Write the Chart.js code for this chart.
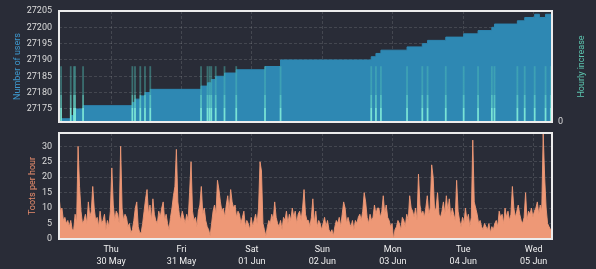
<!DOCTYPE html>
<html>
<head>
<meta charset="utf-8">
<script src="https://cdn.jsdelivr.net/npm/chart.js@4.4.1/dist/chart.umd.min.js"></script>
<style>
  html, body { margin: 0; padding: 0; background: #292c37; }
  body { width: 596px; height: 269px; position: relative; overflow: hidden; }
  .panel { position: absolute; left: 0; width: 596px; }
  #top { top: 0; height: 128px; }
  #bottom { top: 128px; height: 141px; }
</style>
</head>
<body>
<div class="panel" id="top"><canvas id="users"></canvas></div>
<div class="panel" id="bottom"><canvas id="toots"></canvas></div>
<script>
// hours counted from the left edge of the window (29 May, 06:15)
const dayTickHours = [17.75, 41.75, 65.75, 89.75, 113.75, 137.75, 161.75];
const dayNames = ["Thu", "Fri", "Sat", "Sun", "Mon", "Tue", "Wed"];
const dayDates = ["30 May", "31 May", "01 Jun", "02 Jun", "03 Jun", "04 Jun", "05 Jun"];

const userTicks = [27175, 27180, 27185, 27190, 27195, 27200, 27205];
const tootTicks = [0, 5, 10, 15, 20, 25, 30];

// number of users, as (hour of change, new count)
const userHours = [0, 0.7, 4.0, 5.1, 5.5, 8.2, 25.0, 25.9, 27.7, 29.3, 31.1,
  48.4, 50.6, 51.9, 53.4, 56.4, 60.4, 70.2, 75.5, 106.4, 108.0, 109.7,
  118.6, 123.8, 125.6, 131.8, 137.9, 142.8, 147.5, 148.4, 156.2, 158.7,
  162.1, 163.7, 165.8, 168];
const userCounts = [27171, 27172, 27173, 27174, 27175, 27176, 27177, 27178, 27179, 27180, 27181,
  27182, 27183, 27184, 27185, 27186, 27187, 27188, 27190, 27191, 27192, 27193,
  27194, 27195, 27196, 27197, 27198, 27199, 27200, 27201, 27202, 27203,
  27204, 27203, 27204, 27204];

// hourly increase
const increaseHours = [0.7, 4.0, 5.1, 5.5, 8.2, 25.0, 25.9, 27.7, 29.3, 31.1,
  48.4, 50.6, 51.3, 51.9, 53.4, 56.4, 60.4, 70.2, 75.5, 106.4, 108.0, 109.7,
  118.6, 123.8, 125.6, 131.8, 137.9, 142.8, 147.5, 148.4, 156.2, 158.7,
  162.1, 165.8, 167.6];
const increaseValues = [1, 1, 1, 1, 1, 1, 1, 1, 1, 1,
  1, 1, 1, 1, 1, 1, 1, 1, 1, 1, 1, 1,
  1, 1, 1, 1, 1, 1, 1, 1, 1, 1,
  1, 1, 1];

// toots per hour, one reading every half hour
const tootsPerHour = [
  14, 9, 10, 6, 7, 5, 6, 4, 6, 3, 3, 8, 5, 30, 17, 9, 5, 6, 8, 5, 12, 7, 9, 17,
  10, 6, 7, 4, 9, 5, 6, 8, 3, 6, 4, 9, 23, 11, 6, 9, 8, 5, 30, 10, 6, 8, 7, 4,
  5, 2, 3, 6, 10, 12, 4, 2, 2, 5, 9, 13, 16, 8, 11, 6, 13, 8, 6, 5, 9, 7, 10, 12,
  6, 8, 5, 3, 7, 10, 14, 17, 29, 12, 8, 6, 9, 7, 5, 8, 6, 15, 25, 9, 6, 7, 4, 9,
  11, 17, 8, 10, 6, 4, 3, 1, 5, 9, 11, 8, 19, 16, 12, 9, 10, 7, 11, 14, 9, 16, 12, 10,
  11, 7, 9, 8, 5, 7, 9, 4, 6, 5, 3, 7, 4, 6, 8, 5, 10, 25, 22, 5, 3, 1, 4, 6,
  5, 8, 6, 12, 7, 5, 4, 6, 3, 7, 6, 9, 5, 8, 6, 10, 7, 9, 5, 8, 9, 6, 10, 16,
  8, 6, 6, 4, 7, 13, 5, 9, 4, 6, 5, 3, 5, 7, 4, 6, 3, 2, 3, 1, 4, 6, 5, 7,
  4, 8, 12, 10, 5, 7, 5, 4, 6, 3, 6, 5, 7, 8, 6, 9, 15, 12, 7, 5, 8, 6, 7, 11,
  8, 10, 10, 7, 9, 14, 8, 11, 7, 6, 4, 5, 0, 3, 4, 6, 5, 3, 7, 6, 4, 8, 6, 14,
  10, 9, 7, 10, 6, 21, 11, 8, 9, 7, 10, 14, 8, 10, 24, 20, 9, 10, 15, 8, 7, 9, 12, 8,
  14, 9, 13, 7, 10, 8, 6, 19, 9, 6, 4, 7, 5, 10, 6, 8, 4, 7, 32, 12, 10, 8, 5, 6,
  4, 3, 5, 4, 3, 5, 2, 4, 3, 5, 6, 4, 9, 7, 8, 5, 10, 7, 9, 6, 8, 17, 10, 7,
  9, 11, 8, 6, 5, 7, 15, 6, 9, 8, 10, 7, 9, 10, 12, 8, 11, 9, 34, 20, 10, 5, 4, 3,
  3
];

Chart.defaults.font.family = "Roboto";
Chart.defaults.font.size = 9;
Chart.defaults.color = "#dcdcdc";
Chart.defaults.animation = false;

const gridColor = "rgba(255,255,255,0.13)";

// white frame round the plot area
const frame = {
  id: "frame",
  afterDatasetsDraw(chart) {
    const a = chart.chartArea;
    const ctx = chart.ctx;
    ctx.save();
    ctx.strokeStyle = "#ececec";
    ctx.lineWidth = 2;
    ctx.strokeRect(a.left, a.top, a.right - a.left, a.bottom - a.top);
    ctx.restore();
  }
};

// right axis title, reading upwards like the left one
const rightTitle = {
  id: "rightTitle",
  afterDraw(chart) {
    const a = chart.chartArea;
    const ctx = chart.ctx;
    ctx.save();
    ctx.translate(chart.width - 14, (a.top + a.bottom) / 2);
    ctx.rotate(-Math.PI / 2);
    ctx.fillStyle = "#5cc4ae";
    ctx.font = "9px Roboto";
    ctx.textAlign = "center";
    ctx.textBaseline = "middle";
    ctx.fillText("Hourly increase", 0, 0);
    ctx.restore();
  }
};

function dayTicks(axis) {
  axis.ticks = dayTickHours.map((v) => ({ value: v }));
}

// fixed width for the side axes, no extra room for the end labels
function sideWidth(w) {
  return (s) => {
    s.width = w;
    s.paddingTop = 0;
    s.paddingBottom = 0;
  };
}

function spikeColor(c) {
  const a = c.chart.chartArea;
  if (!a) return "rgba(100,210,195,0.6)";
  const g = c.chart.ctx.createLinearGradient(0, a.bottom, 0, a.top);
  g.addColorStop(0, "rgba(125,232,215,0.95)");
  g.addColorStop(0.125, "rgba(125,232,215,0.95)");
  g.addColorStop(0.126, "rgba(100,212,198,0.72)");
  g.addColorStop(0.245, "rgba(100,212,198,0.72)");
  g.addColorStop(0.246, "rgba(80,192,182,0.45)");
  g.addColorStop(1, "rgba(80,192,182,0.45)");
  return g;
}

new Chart(document.getElementById("users"), {
  type: "line",
  data: {
    datasets: [
      {
        type: "bar",
        label: "Hourly increase",
        data: increaseHours.map((h, i) => ({ x: h, y: increaseValues[i] })),
        yAxisID: "y2",
        backgroundColor: spikeColor,
        barThickness: 1.1,
        grouped: false,
        order: 0,
      },
      {
        label: "Number of users",
        data: userHours.map((h, i) => ({ x: h, y: userCounts[i] })),
        yAxisID: "y",
        stepped: "before",
        fill: "start",
        backgroundColor: "rgb(46,136,179)",
        borderColor: "rgb(46,136,179)",
        borderWidth: 1,
        pointRadius: 0,
        order: 1,
      },
    ],
  },
  options: {
    responsive: true,
    maintainAspectRatio: false,
    devicePixelRatio: 1,
    layout: { padding: { top: 11, bottom: 6, left: 0, right: 0 } },
    plugins: { legend: { display: false }, tooltip: { enabled: false } },
    scales: {
      x: {
        type: "linear",
        min: 0,
        max: 168,
        offset: false,
        afterBuildTicks: dayTicks,
        afterFit: (s) => { s.height = 0; },
        ticks: { display: false },
        grid: { color: gridColor, drawTicks: false, offset: false },
        border: { display: false, dash: [3, 2] },
      },
      y: {
        position: "left",
        min: 27171,
        max: 27205,
        afterBuildTicks: (axis) => { axis.ticks = userTicks.map((v) => ({ value: v })); },
        afterFit: sideWidth(59),
        ticks: { padding: 7, color: "#dcdcdc", callback: (v) => String(v) },
        grid: { color: gridColor, drawTicks: false },
        border: { display: false, dash: [3, 2] },
        title: {
          display: true,
          text: "Number of users",
          color: "#3d97cc",
          padding: { top: 12, bottom: 0 },
        },
      },
      y2: {
        position: "right",
        min: 0,
        max: 2,
        afterBuildTicks: (axis) => { axis.ticks = [{ value: 0 }]; },
        afterFit: sideWidth(44),
        ticks: { padding: 6, color: "#dcdcdc", callback: (v) => String(v) },
        grid: { display: false, drawTicks: false },
        border: { display: false },
      },
    },
  },
  plugins: [frame, rightTitle],
});

new Chart(document.getElementById("toots"), {
  type: "line",
  data: {
    datasets: [
      {
        label: "Toots per hour",
        data: tootsPerHour.map((v, i) => ({ x: i / 2, y: v })),
        fill: "start",
        backgroundColor: "rgb(238,152,118)",
        borderColor: "rgba(238,152,118,0.9)",
        borderWidth: 1,
        pointRadius: 0,
        tension: 0,
      },
    ],
  },
  options: {
    responsive: true,
    maintainAspectRatio: false,
    devicePixelRatio: 1,
    layout: { padding: { top: 5, bottom: 0, left: 0, right: 44 } },
    plugins: { legend: { display: false }, tooltip: { enabled: false } },
    scales: {
      x: {
        type: "linear",
        min: 0,
        max: 168,
        afterBuildTicks: dayTicks,
        afterFit: (s) => { s.height = 30; },
        ticks: {
          color: "#f0f0f0",
          padding: 4,
          maxRotation: 0,
          autoSkip: false,
          font: { size: 9, lineHeight: 1.4 },
          callback: (v, i) => [dayNames[i], dayDates[i]],
        },
        grid: { color: gridColor, drawTicks: false },
        border: { display: false, dash: [3, 2] },
      },
      y: {
        min: 0,
        max: 34.3,
        afterBuildTicks: (axis) => { axis.ticks = tootTicks.map((v) => ({ value: v })); },
        afterFit: sideWidth(59),
        ticks: { padding: 7, color: "#dcdcdc" },
        grid: { color: gridColor, drawTicks: false },
        border: { display: false, dash: [3, 2] },
        title: {
          display: true,
          text: "Toots per hour",
          color: "#e58b6b",
          padding: { top: 27, bottom: 0 },
        },
      },
    },
  },
  plugins: [frame],
});
</script>
</body>
</html>
